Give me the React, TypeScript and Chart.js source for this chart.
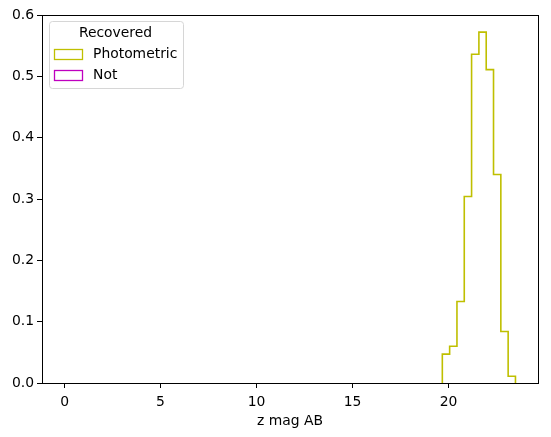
import React, { useEffect, useRef } from "react";
import Chart from "chart.js/auto";

const binEdges = [19.68, 20.061, 20.442, 20.823, 21.204, 21.585, 21.966, 22.347, 22.728, 23.109, 23.49];
const photometricDensity = [0.047, 0.06, 0.133, 0.304, 0.536, 0.572, 0.511, 0.34, 0.084, 0.011];
const notDensity: number[] = [];
const xTicks = [0, 5, 10, 15, 20];
const yTicks = [0, 0.1, 0.2, 0.3, 0.4, 0.5, 0.6];
const seriesLabels = ["Photometric", "Not"];
const seriesColors = ["#bfbf00", "#bf00bf"];
const legendTitle = "Recovered";
const xLabel = "z mag AB";

function stepPoints(edges: number[], h: number[]) {
  if (!h.length) return [];
  const pts: { x: number; y: number }[] = [{ x: edges[0], y: 0 }];
  for (let i = 0; i < h.length; i++) {
    pts.push({ x: edges[i], y: h[i] });
    pts.push({ x: edges[i + 1], y: h[i] });
  }
  pts.push({ x: edges[h.length], y: 0 });
  return pts;
}

const FONT = "'DejaVu Sans', sans-serif";

export default function App() {
  const ref = useRef<HTMLCanvasElement>(null);
  useEffect(() => {
    const framePlugin = {
      id: "frameLegend",
      afterDraw(chart: any) {
        const { ctx, chartArea } = chart;
        const { left, right, top, bottom } = chartArea;
        ctx.save();
        ctx.strokeStyle = "#000";
        ctx.lineWidth = 1;
        ctx.strokeRect(Math.round(left) + 0.5, Math.round(top) + 0.5, Math.round(right - left), Math.round(bottom - top));
        // legend
        const lx = 49.5, ly = 21.5, lw = 134, lh = 67, r = 3;
        ctx.beginPath();
        ctx.moveTo(lx + r, ly);
        ctx.lineTo(lx + lw - r, ly);
        ctx.arcTo(lx + lw, ly, lx + lw, ly + r, r);
        ctx.lineTo(lx + lw, ly + lh - r);
        ctx.arcTo(lx + lw, ly + lh, lx + lw - r, ly + lh, r);
        ctx.lineTo(lx + r, ly + lh);
        ctx.arcTo(lx, ly + lh, lx, ly + lh - r, r);
        ctx.lineTo(lx, ly + r);
        ctx.arcTo(lx, ly, lx + r, ly, r);
        ctx.closePath();
        ctx.fillStyle = "rgba(255,255,255,0.8)";
        ctx.fill();
        ctx.strokeStyle = "#d6d6d6";
        ctx.stroke();
        ctx.font = `13.9px ${FONT}`;
        ctx.fillStyle = "#000";
        ctx.textBaseline = "middle";
        ctx.textAlign = "center";
        ctx.fillText(legendTitle, 115.5, 33.5);
        ctx.textAlign = "left";
        seriesLabels.forEach((lab, i) => {
          const cy = 54.5 + i * 21;
          ctx.strokeStyle = seriesColors[i];
          ctx.lineWidth = 1.3;
          ctx.strokeRect(54.5, cy - 5, 28, 10);
          ctx.fillStyle = "#000";
          ctx.fillText(lab, 93, cy);
        });
        ctx.restore();
      },
    };
    const chart = new Chart(ref.current!, {
      type: "line",
      data: {
        datasets: [
          {
            label: seriesLabels[0],
            data: stepPoints(binEdges, photometricDensity),
            borderColor: seriesColors[0],
            borderWidth: 1.6,
            pointRadius: 0,
            fill: false,
            tension: 0,
          },
          {
            label: seriesLabels[1],
            data: stepPoints(binEdges, notDensity),
            borderColor: seriesColors[1],
            borderWidth: 1.6,
            pointRadius: 0,
            fill: false,
          },
        ],
      },
      options: {
        animation: false,
        responsive: false,
        maintainAspectRatio: false,
        layout: { padding: { left: 0, top: 15, right: 13, bottom: 0 } },
        plugins: { legend: { display: false }, tooltip: { enabled: false }, title: { display: false } },
        scales: {
          x: {
            type: "linear",
            min: -1.1745,
            max: 24.664,
            afterBuildTicks: (s: any) => {
              s.ticks = xTicks.map((v) => ({ value: v }));
            },
            afterFit: (s: any) => {
              s.height = 54;
            },
            grid: { display: true, drawOnChartArea: false, drawTicks: true, tickLength: 5, color: "#000" },
            border: { display: true, color: "#000" },
            ticks: { color: "#000", font: { family: FONT, size: 13.9 }, padding: 6, maxRotation: 0, autoSkip: false, callback: (v: any) => String(v) },
            title: { display: true, text: xLabel, color: "#000", font: { family: FONT, size: 13.9 }, padding: { top: 0, bottom: 7 } },
          },
          y: {
            type: "linear",
            min: 0,
            max: 0.6,
            afterBuildTicks: (s: any) => {
              s.ticks = yTicks.map((v) => ({ value: v }));
            },
            afterFit: (s: any) => {
              s.width = 42;
            },
            grid: { display: true, drawOnChartArea: false, drawTicks: true, tickLength: 5, color: "#000" },
            border: { display: true, color: "#000" },
            ticks: { color: "#000", font: { family: FONT, size: 13.9 }, padding: 3, autoSkip: false, callback: (v: any) => Number(v).toFixed(1) },
          },
        },
      },
      plugins: [framePlugin],
    });
    return () => chart.destroy();
  }, []);
  return (
    <div style={{ position: "absolute", left: 0, top: 0, width: 551, height: 437, background: "#fff" }}>
      <canvas ref={ref} width={551} height={437} style={{ width: 551, height: 437 }} />
    </div>
  );
}
